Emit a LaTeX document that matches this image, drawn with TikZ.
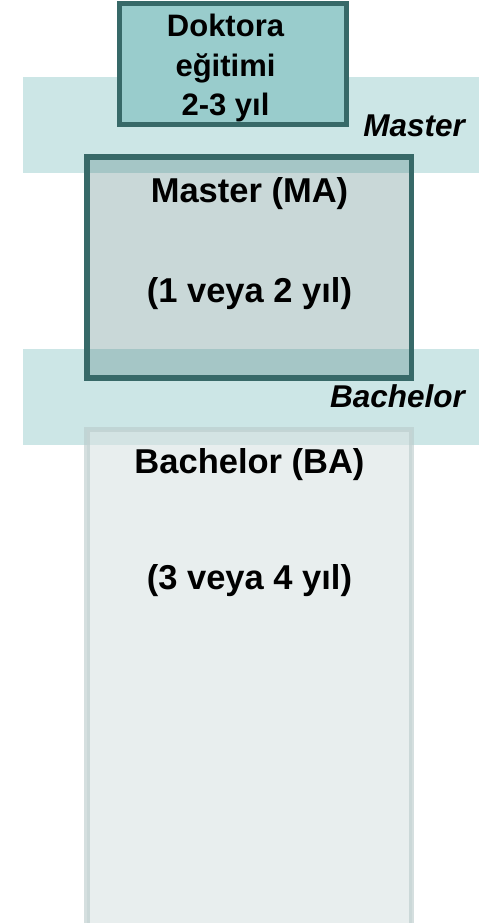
\documentclass[tikz,border=0pt]{standalone}
\usepackage{fontspec}
\setmainfont{Liberation Sans}
\definecolor{bandc}{RGB}{204,230,230}
\definecolor{dokfill}{RGB}{153,204,204}
\definecolor{darkb}{RGB}{55,105,104}
\definecolor{mafill}{RGB}{75,126,126}
\definecolor{bafill}{RGB}{216,226,226}
\definecolor{badraw}{RGB}{185,202,202}
\begin{document}
\begin{tikzpicture}[x=1pt,y=-1pt,
  bandbox/.style={fill=bandc},
  dokbox/.style={draw=darkb, fill=dokfill, line width=5pt, inner sep=0pt, outer sep=0pt, anchor=north west},
  mabox/.style={draw=darkb, fill=mafill, fill opacity=0.3, draw opacity=1, line width=5.5pt, inner sep=0pt, outer sep=0pt, anchor=north west},
  babox/.style={draw=badraw, fill=bafill, fill opacity=0.6, draw opacity=0.6, line width=5.5pt, inner sep=0pt, outer sep=0pt, anchor=north west},
  dtext/.style={font=\bfseries\fontsize{31}{39.7}\selectfont, inner sep=0pt, align=center},
  btext/.style={font=\bfseries\fontsize{34.5}{40}\selectfont, inner sep=0pt, anchor=base},
  ltext/.style={font=\bfseries\itshape\fontsize{31.5}{36}\selectfont, inner sep=0pt, anchor=base east}]
\useasboundingbox (0,0) rectangle (487,923);
\clip (0,0) rectangle (487,923);
\fill[bandbox] (23,77) rectangle (479,173);
\fill[bandbox] (23,349) rectangle (479,445);
\node[dokbox, minimum width=227pt, minimum height=121pt] (dok) at (119.5,3.5) {};
\node[mabox, minimum width=324.5pt, minimum height=221pt] (ma) at (87,157) {};
\node[babox, minimum width=324.5pt, minimum height=500pt] (ba) at (87,429.5) {};
\node[dtext, anchor=north] (doktext) at (225.5,13.8) {Doktora\\eğitimi\\2-3 yıl};
\node[ltext] (mlabel) at (465,136) {Master};
\node[ltext] (blabel) at (465,407) {Bachelor};
\node[btext] (ma1) at (249.5,202) {Master (MA)};
\node[btext] (ma2) at (249.5,302) {(1 veya 2 yıl)};
\node[btext] (ba1) at (249.5,473) {Bachelor (BA)};
\node[btext] (ba2) at (249.5,589) {(3 veya 4 yıl)};
\end{tikzpicture}
\end{document}
